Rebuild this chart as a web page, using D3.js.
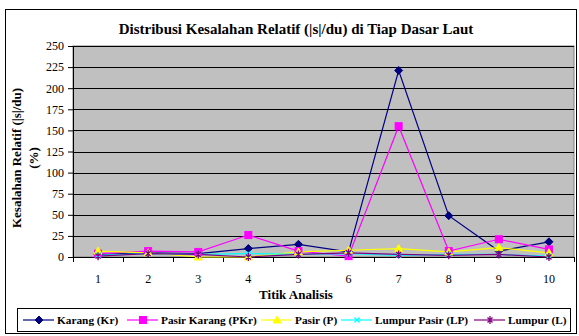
<!DOCTYPE html>
<html>
<head>
<meta charset="utf-8">
<script src="https://cdn.jsdelivr.net/npm/d3@7"></script>
<style>
  body { margin: 0; background: #fff; }
</style>
</head>
<body>
<script>
// data
var titik = ["1", "2", "3", "4", "5", "6", "7", "8", "9", "10"];
var karang = [3, 5, 4, 10, 15, 6, 221, 49, 7, 18];
var pasirKarang = [4, 7, 6, 26, 7, 1, 155, 7, 21, 9];
var pasir = [7, 5, 0, 0, 6, 8, 10, 6, 11, 5];
var lumpurPasir = [2, 4, 3, 4, 3, 4, 2, 3, 3, 1];
var lumpur = [1, 4, 3, 0, 3, 5, 3, 2, 3, 0];
var yTicks = [0, 25, 50, 75, 100, 125, 150, 175, 200, 225, 250];

var series = [
  {name: "Karang (Kr)", values: karang, color: "#000080", marker: "diamond"},
  {name: "Pasir Karang (PKr)", values: pasirKarang, color: "#FF00FF", marker: "square"},
  {name: "Pasir (P)", values: pasir, color: "#FFFF00", marker: "triangle"},
  {name: "Lumpur Pasir (LP)", values: lumpurPasir, color: "#00FFFF", marker: "x"},
  {name: "Lumpur (L)", values: lumpur, color: "#800080", marker: "star"}
];

var FONT = "'Liberation Serif', 'DejaVu Serif', serif";
var W = 579, H = 336;
var margin = {top: 46, right: 5, bottom: 79, left: 73};
var width = W - margin.left - margin.right;
var height = H - margin.top - margin.bottom;

var svg = d3.select("body").append("svg")
  .attr("width", W).attr("height", H)
  .attr("font-family", FONT);

// outer frame
svg.append("rect")
  .attr("x", 5.5).attr("y", 9.5)
  .attr("width", 571).attr("height", 324)
  .attr("fill", "#fff").attr("stroke", "#000").attr("stroke-width", 1);

svg.append("text")
  .attr("x", 296).attr("y", 34)
  .attr("text-anchor", "middle")
  .attr("font-size", 15).attr("font-weight", "bold")
  .text("Distribusi Kesalahan Relatif (|s|/du) di Tiap Dasar Laut");

var g = svg.append("g")
  .attr("transform", "translate(" + margin.left + "," + margin.top + ")");

var xScale = d3.scaleBand().domain(titik).range([0, width]);
var yScale = d3.scaleLinear().domain([0, 250]).range([height, 0]);

// plot area
g.append("rect")
  .attr("width", width).attr("height", height)
  .attr("fill", "#C0C0C0")
  .attr("stroke", "#808080");

// gridlines
g.selectAll(".grid").data(yTicks.slice(1)).enter().append("line")
  .attr("x1", 0).attr("x2", width)
  .attr("y1", function(d) { return Math.round(yScale(d)) + 0.5; })
  .attr("y2", function(d) { return Math.round(yScale(d)) + 0.5; })
  .attr("stroke", "#000").attr("stroke-width", 1);

// y axis
var yAxis = d3.axisLeft(yScale).tickValues(yTicks).tickSize(5).tickPadding(4);
var yAxisGroup = g.append("g").call(yAxis).attr("font-family", FONT).attr("font-size", 12);
yAxisGroup.select(".domain").attr("stroke", "#000");
yAxisGroup.selectAll("text").attr("fill", "#000");

// x axis: ticks between categories
var xAxisGroup = g.append("g").attr("transform", "translate(0," + height + ")");
xAxisGroup.append("line")
  .attr("x1", 0).attr("x2", width).attr("y1", 0.5).attr("y2", 0.5)
  .attr("stroke", "#000");
var bounds = d3.range(titik.length + 1).map(function(i) { return i * xScale.step(); });
xAxisGroup.selectAll(".xt").data(bounds).enter().append("line")
  .attr("x1", function(d) { return Math.round(d) + 0.5; })
  .attr("x2", function(d) { return Math.round(d) + 0.5; })
  .attr("y1", 0).attr("y2", 5)
  .attr("stroke", "#000");
xAxisGroup.selectAll(".xl").data(titik).enter().append("text")
  .attr("x", function(d) { return xScale(d) + xScale.bandwidth() / 2; })
  .attr("y", 26)
  .attr("text-anchor", "middle")
  .attr("font-size", 12)
  .text(function(d) { return d; });

svg.append("text")
  .attr("x", 296).attr("y", 299)
  .attr("text-anchor", "middle")
  .attr("font-size", 13).attr("font-weight", "bold")
  .text("Titik Analisis");

var yTitle = svg.append("text")
  .attr("transform", "translate(21,158) rotate(-90)")
  .attr("text-anchor", "middle")
  .attr("font-size", 13).attr("font-weight", "bold");
yTitle.append("tspan").attr("x", 0).attr("dy", 0).text("Kesalahan Relatif (|s|/du)");
yTitle.append("tspan").attr("x", 0).attr("dy", 17).text("(%)");

// markers
function drawMarker(sel, type, color, size) {
  var s = size;
  if (type === "diamond") {
    sel.append("path").attr("d", "M0," + (-s) + "L" + s + ",0L0," + s + "L" + (-s) + ",0Z")
      .attr("fill", color).attr("stroke", color);
  } else if (type === "square") {
    sel.append("rect").attr("x", -s + 0.5).attr("y", -s + 0.5)
      .attr("width", 2 * s - 1).attr("height", 2 * s - 1)
      .attr("fill", color).attr("stroke", color);
  } else if (type === "triangle") {
    sel.append("path").attr("d", "M0," + (-s) + "L" + s + "," + (s - 1) + "L" + (-s) + "," + (s - 1) + "Z")
      .attr("fill", color).attr("stroke", color);
  } else if (type === "x") {
    var k = s - 1.5;
    sel.append("path").attr("d", "M" + (-k) + "," + (-k) + "L" + k + "," + k + "M" + (-k) + "," + k + "L" + k + "," + (-k))
      .attr("stroke", color).attr("stroke-width", 1.3).attr("fill", "none");
  } else {
    var k2 = s - 1.5;
    sel.append("path").attr("d", "M" + (-k2) + "," + (-k2) + "L" + k2 + "," + k2 + "M" + (-k2) + "," + k2 + "L" + k2 + "," + (-k2) + "M0," + (-s) + "L0," + s)
      .attr("stroke", color).attr("stroke-width", 1.3).attr("fill", "none");
  }
}

var line = d3.line()
  .x(function(d, i) { return xScale(titik[i]) + xScale.bandwidth() / 2; })
  .y(function(d) { return yScale(d); });

series.forEach(function(s) {
  g.append("path")
    .datum(s.values)
    .attr("d", line)
    .attr("fill", "none")
    .attr("stroke", s.color)
    .attr("stroke-width", 1.2);
});
series.forEach(function(s) {
  s.values.forEach(function(v, i) {
    var m = g.append("g")
      .attr("transform", "translate(" + (xScale(titik[i]) + xScale.bandwidth() / 2) + "," + yScale(v) + ")");
    drawMarker(m, s.marker, s.color, 4);
  });
});

// legend
var legend = svg.append("g");
legend.append("rect")
  .attr("x", 17.5).attr("y", 308.5)
  .attr("width", 553).attr("height", 23)
  .attr("fill", "#fff").attr("stroke", "#000");
var legendX = [23, 127, 261, 341, 474];
series.forEach(function(s, i) {
  var lg = legend.append("g").attr("transform", "translate(" + legendX[i] + ",320)");
  lg.append("line").attr("x1", 0).attr("x2", 31).attr("y1", 0).attr("y2", 0)
    .attr("stroke", s.color).attr("stroke-width", 1.2);
  var m = lg.append("g").attr("transform", "translate(16,0)");
  drawMarker(m, s.marker, s.color, 4);
  lg.append("text").attr("x", 34).attr("y", 4)
    .attr("font-size", 11.3).attr("font-weight", "bold")
    .text(s.name);
});
</script>
</body>
</html>
